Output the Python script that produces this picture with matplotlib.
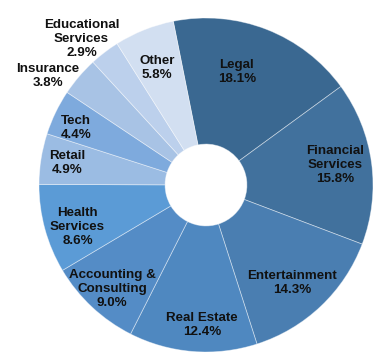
import numpy as np
import matplotlib
matplotlib.use("Agg")
import matplotlib.pyplot as plt

# data, clockwise starting with Legal
labels = ['Legal', 'Financial\nServices', 'Entertainment', 'Real Estate',
          'Accounting &\nConsulting', 'Health\nServices', 'Retail', 'Tech',
          'Insurance', 'Educational\nServices', 'Other']
shares = [18.1, 15.8, 14.3, 12.4, 9.0, 8.6, 4.9, 4.4, 3.8, 2.9, 5.8]
colors = ['#3a6891', '#41719d', '#4a7eb1', '#4f88c0', '#548cc6', '#5b9bd6',
          '#9bbce3', '#7eaadd', '#a8c3e5', '#bcd0ec', '#d2dff1']

# label placement (radius, angle nudge in degrees)
label_r = [0.70, 0.78, 0.78, 0.84, 0.84, 0.81, 0.84, 0.85, 1.15, 1.15, 0.76]
label_nudge = [6, 1, -2, 3, 1, 3, 0, 2, 6, 3, 1]

start = 101.3

fig = plt.figure(figsize=(3.82, 3.58), dpi=100)
ax = fig.add_axes([30.65 / 382, -2.35 / 358, 350.7 / 382, 350.7 / 358])

wedges, _ = ax.pie(shares, colors=colors, startangle=start, counterclock=False,
                   radius=1.0,
                   wedgeprops=dict(width=0.755, edgecolor=(1, 1, 1, 0.45), linewidth=0.6))

ang = start
for lab, val, r, nd in zip(labels, shares, label_r, label_nudge):
    sweep = val * 3.6
    mid = np.deg2rad(ang - sweep / 2 + nd)
    ang -= sweep
    ax.text(r * np.cos(mid), r * np.sin(mid), f'{lab}\n{val:.1f}%',
            ha='center', va='center', fontsize=9.6, fontweight='bold',
            family='Liberation Sans', color='#111111', linespacing=1.22,
            clip_on=False)

ax.set_xlim(-1.05, 1.05)
ax.set_ylim(-1.05, 1.05)
ax.set_aspect('equal')
ax.axis('off')

fig.savefig('out.png', dpi=100)
